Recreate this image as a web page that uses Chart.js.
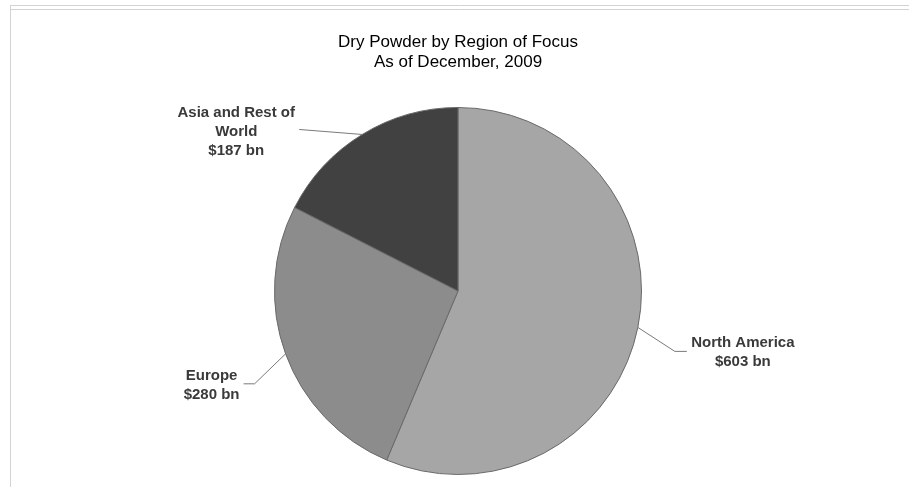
<!DOCTYPE html>
<html>
<head>
<meta charset="utf-8">
<script src="https://cdn.jsdelivr.net/npm/chart.js@4/dist/chart.umd.min.js"></script>
<style>
  html, body { margin: 0; padding: 0; background: #ffffff; }
  #wrap { width: 909px; height: 487px; position: relative; }
</style>
</head>
<body>
<div id="wrap"><canvas id="c" width="909" height="487"></canvas></div>
<script>
// ---- data ----
const regions = ["North America", "Europe", "Asia and Rest of World"];
const labelLines = [["North America"], ["Europe"], ["Asia and Rest of", "World"]];
const values = [603, 280, 187];
const valueLabels = ["$603 bn", "$280 bn", "$187 bn"];
const titleLines = ["Dry Powder by Region of Focus", "As of December, 2009"];

// ---- styles / layout (not data) ----
const sliceColors = ["#a6a6a6", "#8c8c8c", "#414141"];
// leader geometry relative to arc edge point: elbow, end, label centre (first line)
const leaderCfg = [
  { elbow: [37, 24], end: [49, 24], label: [105, 15] },
  { elbow: [-31, 30], end: [-42, 30], label: [-74, 22] },
  { elbow: null, end: [-63, -5], label: [-126, -22] }
];

const framePlugin = {
  id: 'frame',
  beforeDraw(chart) {
    const ctx = chart.ctx;
    ctx.save();
    ctx.fillStyle = '#ffffff';
    ctx.fillRect(0, 0, chart.width, chart.height);
    ctx.strokeStyle = '#d3d3d3';
    ctx.lineWidth = 1;
    ctx.beginPath();
    ctx.moveTo(10, 5.5); ctx.lineTo(chart.width, 5.5);
    ctx.moveTo(10, 9.5); ctx.lineTo(chart.width, 9.5);
    ctx.moveTo(10.5, 5); ctx.lineTo(10.5, chart.height);
    ctx.stroke();
    ctx.restore();
  }
};

const labelPlugin = {
  id: 'sliceLabels',
  afterDatasetsDraw(chart) {
    const ctx = chart.ctx;
    const meta = chart.getDatasetMeta(0);
    ctx.save();
    meta.data.forEach((arc, i) => {
      const p = arc.getProps(['x', 'y', 'startAngle', 'endAngle', 'outerRadius'], true);
      const mid = (p.startAngle + p.endAngle) / 2;
      const ex = p.x + Math.cos(mid) * p.outerRadius;
      const ey = p.y + Math.sin(mid) * p.outerRadius;
      const cfg = leaderCfg[i];
      ctx.strokeStyle = '#7a7a7a';
      ctx.lineWidth = 1;
      ctx.beginPath();
      ctx.moveTo(ex, ey);
      if (cfg.elbow) ctx.lineTo(ex + cfg.elbow[0], ey + cfg.elbow[1]);
      ctx.lineTo(ex + cfg.end[0], ey + cfg.end[1]);
      ctx.stroke();
      const lines = labelLines[i].concat([valueLabels[i]]);
      ctx.fillStyle = '#3a3a3a';
      ctx.font = 'bold 15px "Liberation Sans", Arial, sans-serif';
      ctx.textAlign = 'center';
      ctx.textBaseline = 'middle';
      lines.forEach((t, k) => {
        ctx.fillText(t, ex + cfg.label[0], ey + cfg.label[1] + k * 19);
      });
    });
    ctx.restore();
  }
};

new Chart(document.getElementById('c'), {
  type: 'pie',
  data: {
    labels: regions,
    datasets: [{
      data: values,
      backgroundColor: sliceColors,
      borderColor: '#6a6a6a',
      borderWidth: 1
    }]
  },
  options: {
    responsive: false,
    animation: false,
    events: [],
    layout: { padding: { left: 100, right: 93, top: 0, bottom: 12 } },
    plugins: {
      legend: { display: false },
      tooltip: { enabled: false },
      title: {
        display: true,
        text: titleLines,
        color: '#000000',
        font: { family: '"Liberation Sans", Arial, sans-serif', size: 17, weight: 'normal', lineHeight: 20 / 17 },
        padding: { top: 32, bottom: 35 }
      }
    }
  },
  plugins: [framePlugin, labelPlugin]
});
</script>
</body>
</html>
